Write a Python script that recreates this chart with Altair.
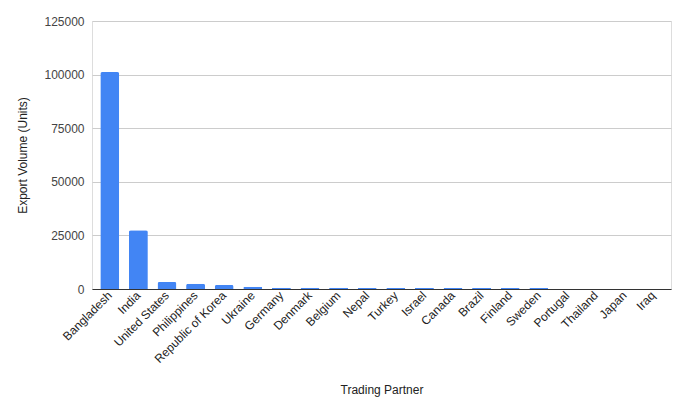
import altair as alt
import pandas as pd

partners = ["Bangladesh", "India", "United States", "Philippines", "Republic of Korea",
            "Ukraine", "Germany", "Denmark", "Belgium", "Nepal", "Turkey", "Israel",
            "Canada", "Brazil", "Finland", "Sweden", "Portugal", "Thailand", "Japan", "Iraq"]
volumes = [101200, 27400, 3300, 2400, 1900, 1000, 600, 550, 550, 500, 500, 500,
           480, 480, 470, 460, 40, 30, 20, 10]
y_ticks = [0, 25000, 50000, 75000, 100000, 125000]

df = pd.DataFrame({"partner": partners, "volume": volumes})

FONT = "Liberation Sans"

chart = alt.Chart(df).mark_bar(
    color="#4285F4", cornerRadiusTopLeft=2, cornerRadiusTopRight=2
).encode(
    x=alt.X("partner:N", sort=partners, title="Trading Partner",
            scale=alt.Scale(paddingInner=0.336, paddingOuter=0.29),
            axis=alt.Axis(labelAngle=-45, labelAlign="right", labelBaseline="middle",
                          labelFont=FONT, labelFontSize=12, labelColor="#222",
                          labelPadding=4, ticks=False, domainColor="#333",
                          domainWidth=1, titleFont=FONT, titleFontSize=12,
                          titleColor="#222", titleFontWeight="normal",
                          titleY=100, titleBaseline="middle")),
    y=alt.Y("volume:Q", title="Export Volume (Units)",
            scale=alt.Scale(domain=[0, 125000], nice=False),
            axis=alt.Axis(values=y_ticks, format="d", labelFont=FONT, labelFontSize=12,
                          labelColor="#444", labelPadding=8, ticks=False, domain=False,
                          gridColor="#cccccc", titleFont=FONT, titleFontSize=12,
                          titleColor="#222", titleFontWeight="normal",
                          titleX=-70, titleY=134, titleAngle=-90,
                          titleBaseline="middle", titleAlign="center")),
).properties(
    width=579, height=268,
    autosize=alt.AutoSizeParams(type="none"),
    padding={"left": 84, "top": 13, "right": 5, "bottom": 110},
).configure_view(stroke=None).configure(background="white")

chart.save("out.html", embed_options={"renderer": "svg", "actions": False})
